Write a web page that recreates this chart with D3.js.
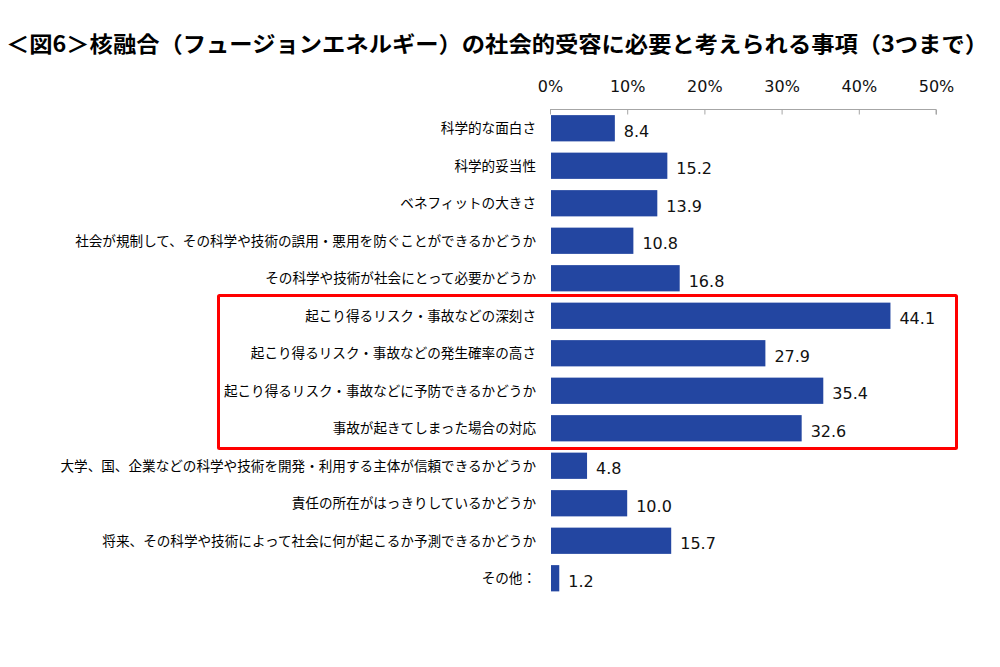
<!DOCTYPE html>
<meta charset="utf-8">
<style>
    body { margin: 0; background: #fff; }
    .cat { font-family: "Noto Sans CJK JP", sans-serif; font-size: 13.6px; fill: #000; }
    .val, .tick text { font-family: "DejaVu Sans", Verdana, sans-serif; font-size: 16px; fill: #111; }
    .title { font-family: "Noto Sans CJK JP", sans-serif; font-weight: bold; font-size: 22px; }
</style>
<svg width="1000" height="667"></svg>
<script src="https://cdnjs.cloudflare.com/ajax/libs/d3/7.8.5/d3.min.js"></script>
<script>

    var categories = [
        "科学的な面白さ",
        "科学的妥当性",
        "ベネフィットの大きさ",
        "社会が規制して、その科学や技術の誤用・悪用を防ぐことができるかどうか",
        "その科学や技術が社会にとって必要かどうか",
        "起こり得るリスク・事故などの深刻さ",
        "起こり得るリスク・事故などの発生確率の高さ",
        "起こり得るリスク・事故などに予防できるかどうか",
        "事故が起きてしまった場合の対応",
        "大学、国、企業などの科学や技術を開発・利用する主体が信頼できるかどうか",
        "責任の所在がはっきりしているかどうか",
        "将来、その科学や技術によって社会に何が起こるか予測できるかどうか",
        "その他："
    ];
    var values = [8.4, 15.2, 13.9, 10.8, 16.8, 44.1, 27.9, 35.4, 32.6, 4.8, 10.0, 15.7, 1.2];
    var ticks = [0, 10, 20, 30, 40, 50];
    var highlighted = categories.slice(5, 9);

    var svg = d3.select("svg");

    var x = d3.scaleLinear()
        .domain([0, 50])
        .range([550, 936]);

    var y = d3.scaleBand()
        .domain(categories)
        .range([109.5, 597])
        .paddingInner(0.3)
        .paddingOuter(0.15);

    // title, fitted to the same width as the reference
    svg.append("text")
        .attr("class", "title")
        .attr("x", 6)
        .attr("y", 52)
        .attr("textLength", 982)
        .attr("lengthAdjust", "spacingAndGlyphs")
        .text("＜図6＞核融合（フュージョンエネルギー）の社会的受容に必要と考えられる事項（3つまで）");

    // top axis, ticks point down into the plot
    var axis = svg.append("g")
        .attr("transform", "translate(0,109.5)")
        .call(d3.axisBottom(x)
            .tickValues(ticks)
            .tickSize(5)
            .tickFormat(function (d) { return d + "%"; }));
    axis.select(".domain").attr("stroke", "#a6a6a6").attr("d", "M" + x(0) + ",0H" + x(50) + "V5");
    axis.selectAll(".tick line").attr("stroke", "#a6a6a6");
    axis.selectAll(".tick text").attr("y", -23).attr("dy", "0.35em");

    svg.append("g")
        .selectAll("rect")
        .data(values)
        .enter()
        .append("rect")
        .attr("x", x(0) + 1)
        .attr("y", function (d, i) { return y(categories[i]); })
        .attr("width", function (d) { return x(d) - x(0) - 1; })
        .attr("height", y.bandwidth())
        .attr("fill", "#2346a1");

    svg.append("g")
        .selectAll("text")
        .data(values)
        .enter()
        .append("text")
        .attr("class", "val")
        .attr("x", function (d) { return x(d) + 9; })
        .attr("y", function (d, i) { return y(categories[i]) + y.bandwidth() / 2 + 3; })
        .attr("dy", "0.35em")
        .text(function (d) { return d.toFixed(1); });

    svg.append("g")
        .selectAll("text")
        .data(categories)
        .enter()
        .append("text")
        .attr("class", "cat")
        .attr("x", 536)
        .attr("y", function (d) { return y(d) + y.bandwidth() / 2; })
        .attr("dy", "0.35em")
        .attr("text-anchor", "end")
        .text(function (d) { return d; });

    // red frame around the risk-related items
    var boxTop = y(highlighted[0]) - 0.3 * y.step() / 2 - 1.5;
    var boxBottom = y(highlighted[highlighted.length - 1]) + y.bandwidth() + 0.3 * y.step() / 2 + 1.5;
    svg.append("rect")
        .attr("x", 218.5)
        .attr("y", boxTop)
        .attr("width", 956.5 - 218.5)
        .attr("height", boxBottom - boxTop)
        .attr("fill", "none")
        .attr("stroke", "#ff0000")
        .attr("stroke-width", 3)
        .attr("rx", 1);

</script>
